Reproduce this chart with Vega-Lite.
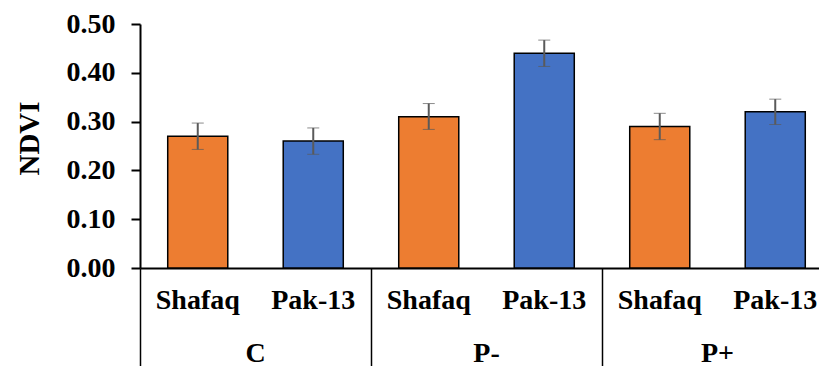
{
  "$schema": "https://vega.github.io/schema/vega-lite/v6.json",
  "autosize": {"type": "none"},
  "width": 693,
  "height": 244,
  "padding": {"left": 140, "top": 24, "right": -14, "bottom": 98},
  "background": "white",
  "config": {
    "view": {"stroke": null},
    "font": "Liberation Serif",
    "axis": {"labelFont": "Liberation Serif", "titleFont": "Liberation Serif", "labelFontWeight": "bold", "titleFontWeight": "bold", "labelColor": "black", "titleColor": "black"}
  },
  "data": {
    "values": [
      {"key": "C|Shafaq", "group": "C", "variety": "Shafaq", "ndvi": 0.27, "low": 0.243, "high": 0.297},
      {"key": "C|Pak-13", "group": "C", "variety": "Pak-13", "ndvi": 0.26, "low": 0.233, "high": 0.287},
      {"key": "P-|Shafaq", "group": "P-", "variety": "Shafaq", "ndvi": 0.31, "low": 0.284, "high": 0.337},
      {"key": "P-|Pak-13", "group": "P-", "variety": "Pak-13", "ndvi": 0.44, "low": 0.413, "high": 0.467},
      {"key": "P+|Shafaq", "group": "P+", "variety": "Shafaq", "ndvi": 0.29, "low": 0.263, "high": 0.317},
      {"key": "P+|Pak-13", "group": "P+", "variety": "Pak-13", "ndvi": 0.32, "low": 0.294, "high": 0.346}
    ]
  },
  "layer": [
    {
      "layer": [
        {
          "mark": {"type": "bar", "width": {"band": 0.52}, "stroke": "black", "strokeWidth": 1.5},
          "encoding": {
            "x": {
              "field": "key", "type": "nominal", "sort": null,
              "scale": {"paddingInner": 0, "paddingOuter": 0},
              "axis": {
                "title": null, "orient": "bottom", "labelAngle": 0, "ticks": false, "domainColor": "black", "domainWidth": 2,
                "labelExpr": "split(datum.value, '|')[1]", "labelFontSize": 28, "labelPadding": 18, "labelBaseline": "top"
              }
            },
            "y": {
              "field": "ndvi", "type": "quantitative",
              "scale": {"domain": [0, 0.5]},
              "axis": {
                "title": "NDVI", "titleFontSize": 29, "titlePadding": 22, "titleY": 114, "values": [0, 0.1, 0.2, 0.3, 0.4, 0.5], "format": ".2f",
                "grid": false, "domainColor": "black", "domainWidth": 2, "tickColor": "black", "tickWidth": 2, "tickSize": 9,
                "labelFontSize": 28, "labelPadding": 16
              }
            },
            "color": {
              "field": "variety", "type": "nominal",
              "scale": {"domain": ["Shafaq", "Pak-13"], "range": ["#ED7D31", "#4472C4"]},
              "legend": null
            }
          }
        },
        {
          "mark": {"type": "errorbar", "ticks": {"size": 12, "color": "#5a5a5a", "strokeWidth": 2}, "rule": {"color": "#5a5a5a", "strokeWidth": 2}},
          "encoding": {
            "x": {"field": "key", "type": "nominal", "sort": null},
            "y": {"field": "low", "type": "quantitative", "title": "NDVI"},
            "y2": {"field": "high"}
          }
        }
      ]
    },
    {
      "mark": {"type": "tick", "opacity": 0},
      "encoding": {
        "x": {
          "field": "group", "type": "nominal", "sort": ["C", "P-", "P+"],
          "scale": {"paddingInner": 0, "paddingOuter": 0},
          "axis": {
            "title": null, "orient": "bottom", "labelAngle": 0, "domain": false, "ticks": true, "bandPosition": 0,
            "tickSize": 98, "tickColor": "black", "tickWidth": 1.5, "offset": 0,
            "labelFontSize": 28, "labelPadding": -27, "labelBaseline": "top"
          }
        },
        "y": {"datum": 0, "type": "quantitative"}
      }
    }
  ],
  "resolve": {"scale": {"x": "independent"}, "axis": {"x": "independent"}}
}
